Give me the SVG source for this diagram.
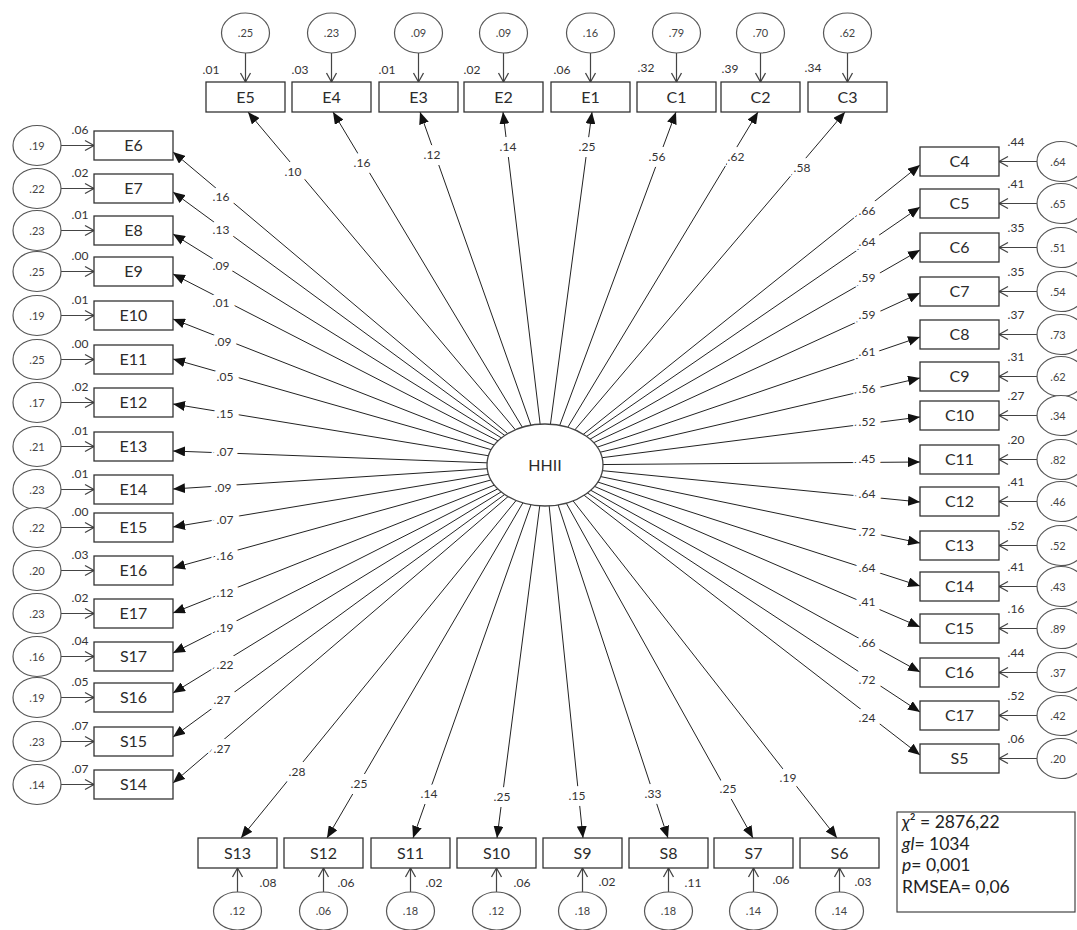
<svg xmlns="http://www.w3.org/2000/svg" width="1077" height="930" viewBox="0 0 1077 930">
<defs>
<marker id="tri" markerUnits="userSpaceOnUse" markerWidth="12" markerHeight="10" refX="12" refY="5" orient="auto"><path d="M0,0 L12,5 L0,10 z" fill="#111"/></marker>
<marker id="open" markerUnits="userSpaceOnUse" markerWidth="12" markerHeight="12" refX="9" refY="6" orient="auto" overflow="visible"><path d="M0,1 L9,6 L0,11" fill="none" stroke="#444" stroke-width="1.3"/></marker>
<style>
text{font-family:Lato,'Liberation Sans',sans-serif}
.box{fill:#fff;stroke:#333;stroke-width:1.3}
.lbl{font-size:16px;fill:#2b2b2b;text-anchor:middle}
.r2{font-size:12px;fill:#333;text-anchor:middle}
.err{fill:#fff;stroke:#555;stroke-width:1.2}
.et{font-size:11px;fill:#444;text-anchor:middle}
.p{stroke:#222;stroke-width:1;marker-end:url(#tri)}
.ep{stroke:#444;stroke-width:1.2;marker-end:url(#open)}
.c{font-size:12px;fill:#333;text-anchor:middle;stroke:#fff;stroke-width:12;paint-order:stroke;stroke-linejoin:round}
.st{font-size:17.5px;fill:#222}
</style>
</defs>
<rect width="1077" height="930" fill="#fff"/>
<g id="connectors">
<line class="p" x1="545" y1="465" x2="248" y2="112"/><text class="c" x="293" y="176">.10</text>
<line class="p" x1="545" y1="465" x2="333" y2="112"/><text class="c" x="362" y="167">.16</text>
<line class="p" x1="545" y1="465" x2="420" y2="112"/><text class="c" x="432" y="159">.12</text>
<line class="p" x1="545" y1="465" x2="503" y2="112"/><text class="c" x="508" y="151">.14</text>
<line class="p" x1="545" y1="465" x2="592" y2="112"/><text class="c" x="587" y="151">.25</text>
<line class="p" x1="545" y1="465" x2="676" y2="112"/><text class="c" x="657" y="161">.56</text>
<line class="p" x1="545" y1="465" x2="758" y2="112"/><text class="c" x="736" y="161">.62</text>
<line class="p" x1="545" y1="465" x2="845" y2="112"/><text class="c" x="802" y="172">.58</text>
<line class="p" x1="545" y1="465" x2="173" y2="152"/><text class="c" x="221" y="201">.16</text>
<line class="p" x1="545" y1="465" x2="173" y2="192"/><text class="c" x="221" y="234">.13</text>
<line class="p" x1="545" y1="465" x2="173" y2="234"/><text class="c" x="221" y="270">.09</text>
<line class="p" x1="545" y1="465" x2="173" y2="274"/><text class="c" x="221" y="307">.01</text>
<line class="p" x1="545" y1="465" x2="173" y2="319"/><text class="c" x="223" y="346">.09</text>
<line class="p" x1="545" y1="465" x2="173" y2="359"/><text class="c" x="225" y="381">.05</text>
<line class="p" x1="545" y1="465" x2="173" y2="404"/><text class="c" x="225" y="418">.15</text>
<line class="p" x1="545" y1="465" x2="173" y2="451"/><text class="c" x="225" y="456">.07</text>
<line class="p" x1="545" y1="465" x2="173" y2="489"/><text class="c" x="223" y="492">.09</text>
<line class="p" x1="545" y1="465" x2="173" y2="527"/><text class="c" x="225" y="524">.07</text>
<line class="p" x1="545" y1="465" x2="173" y2="568"/><text class="c" x="225" y="560">.16</text>
<line class="p" x1="545" y1="465" x2="173" y2="613"/><text class="c" x="225" y="597">.12</text>
<line class="p" x1="545" y1="465" x2="173" y2="653"/><text class="c" x="225" y="632">.19</text>
<line class="p" x1="545" y1="465" x2="173" y2="693"/><text class="c" x="225" y="669">.22</text>
<line class="p" x1="545" y1="465" x2="173" y2="737"/><text class="c" x="222" y="704">.27</text>
<line class="p" x1="545" y1="465" x2="173" y2="783"/><text class="c" x="222" y="753">.27</text>
<line class="p" x1="545" y1="465" x2="920" y2="165"/><text class="c" x="867" y="215">.66</text>
<line class="p" x1="545" y1="465" x2="920" y2="207"/><text class="c" x="867" y="246">.64</text>
<line class="p" x1="545" y1="465" x2="920" y2="250"/><text class="c" x="867" y="282">.59</text>
<line class="p" x1="545" y1="465" x2="920" y2="293"/><text class="c" x="867" y="319">.59</text>
<line class="p" x1="545" y1="465" x2="920" y2="337"/><text class="c" x="867" y="356">.61</text>
<line class="p" x1="545" y1="465" x2="920" y2="378"/><text class="c" x="867" y="393">.56</text>
<line class="p" x1="545" y1="465" x2="920" y2="417"/><text class="c" x="867" y="426">.52</text>
<line class="p" x1="545" y1="465" x2="920" y2="462"/><text class="c" x="867" y="463">.45</text>
<line class="p" x1="545" y1="465" x2="920" y2="502"/><text class="c" x="867" y="498">.64</text>
<line class="p" x1="545" y1="465" x2="920" y2="543"/><text class="c" x="867" y="536">.72</text>
<line class="p" x1="545" y1="465" x2="920" y2="586"/><text class="c" x="867" y="572">.64</text>
<line class="p" x1="545" y1="465" x2="920" y2="627"/><text class="c" x="867" y="606">.41</text>
<line class="p" x1="545" y1="465" x2="920" y2="672"/><text class="c" x="867" y="647">.66</text>
<line class="p" x1="545" y1="465" x2="920" y2="712"/><text class="c" x="867" y="684">.72</text>
<line class="p" x1="545" y1="465" x2="920" y2="755"/><text class="c" x="867" y="722">.24</text>
<line class="p" x1="545" y1="465" x2="241" y2="838"/><text class="c" x="297" y="776">.28</text>
<line class="p" x1="545" y1="465" x2="327" y2="838"/><text class="c" x="359" y="788">.25</text>
<line class="p" x1="545" y1="465" x2="413" y2="838"/><text class="c" x="429" y="798">.14</text>
<line class="p" x1="545" y1="465" x2="497" y2="838"/><text class="c" x="502" y="801">.25</text>
<line class="p" x1="545" y1="465" x2="583" y2="838"/><text class="c" x="577" y="800">.15</text>
<line class="p" x1="545" y1="465" x2="668" y2="838"/><text class="c" x="653" y="798">.33</text>
<line class="p" x1="545" y1="465" x2="753" y2="838"/><text class="c" x="728" y="793">.25</text>
<line class="p" x1="545" y1="465" x2="837" y2="838"/><text class="c" x="788" y="782">.19</text>
<line class="ep" x1="245.5" y1="53" x2="245.5" y2="82"/>
<line class="ep" x1="331.5" y1="53" x2="331.5" y2="82"/>
<line class="ep" x1="418.5" y1="53" x2="418.5" y2="82"/>
<line class="ep" x1="503.5" y1="53" x2="503.5" y2="82"/>
<line class="ep" x1="590.5" y1="53" x2="590.5" y2="82"/>
<line class="ep" x1="676.5" y1="53" x2="676.5" y2="82"/>
<line class="ep" x1="760.5" y1="53" x2="760.5" y2="82"/>
<line class="ep" x1="847.5" y1="53" x2="847.5" y2="82"/>
<line class="ep" x1="61" y1="145.5" x2="94" y2="145.5"/>
<line class="ep" x1="61" y1="188.5" x2="94" y2="188.5"/>
<line class="ep" x1="61" y1="230.5" x2="94" y2="230.5"/>
<line class="ep" x1="61" y1="271.5" x2="94" y2="271.5"/>
<line class="ep" x1="61" y1="315.5" x2="94" y2="315.5"/>
<line class="ep" x1="61" y1="359.5" x2="94" y2="359.5"/>
<line class="ep" x1="61" y1="402.5" x2="94" y2="402.5"/>
<line class="ep" x1="61" y1="446.5" x2="94" y2="446.5"/>
<line class="ep" x1="61" y1="489.5" x2="94" y2="489.5"/>
<line class="ep" x1="61" y1="527.5" x2="94" y2="527.5"/>
<line class="ep" x1="61" y1="570.5" x2="94" y2="570.5"/>
<line class="ep" x1="61" y1="613.5" x2="94" y2="613.5"/>
<line class="ep" x1="61" y1="656.5" x2="94" y2="656.5"/>
<line class="ep" x1="61" y1="697.5" x2="94" y2="697.5"/>
<line class="ep" x1="61" y1="741.5" x2="94" y2="741.5"/>
<line class="ep" x1="61" y1="784.5" x2="94" y2="784.5"/>
<line class="ep" x1="1037" y1="161.5" x2="999" y2="161.5"/>
<line class="ep" x1="1037" y1="203.5" x2="999" y2="203.5"/>
<line class="ep" x1="1037" y1="247.5" x2="999" y2="247.5"/>
<line class="ep" x1="1037" y1="291.5" x2="999" y2="291.5"/>
<line class="ep" x1="1037" y1="334.5" x2="999" y2="334.5"/>
<line class="ep" x1="1037" y1="376.5" x2="999" y2="376.5"/>
<line class="ep" x1="1037" y1="415.5" x2="999" y2="415.5"/>
<line class="ep" x1="1037" y1="459.5" x2="999" y2="459.5"/>
<line class="ep" x1="1037" y1="501.5" x2="999" y2="501.5"/>
<line class="ep" x1="1037" y1="545.5" x2="999" y2="545.5"/>
<line class="ep" x1="1037" y1="586.5" x2="999" y2="586.5"/>
<line class="ep" x1="1037" y1="628.5" x2="999" y2="628.5"/>
<line class="ep" x1="1037" y1="672.5" x2="999" y2="672.5"/>
<line class="ep" x1="1037" y1="715.5" x2="999" y2="715.5"/>
<line class="ep" x1="1037" y1="758.5" x2="999" y2="758.5"/>
<line class="ep" x1="237.5" y1="892" x2="237.5" y2="868"/>
<line class="ep" x1="323.5" y1="892" x2="323.5" y2="868"/>
<line class="ep" x1="410.5" y1="892" x2="410.5" y2="868"/>
<line class="ep" x1="496.5" y1="892" x2="496.5" y2="868"/>
<line class="ep" x1="582.5" y1="892" x2="582.5" y2="868"/>
<line class="ep" x1="668.5" y1="892" x2="668.5" y2="868"/>
<line class="ep" x1="753.5" y1="892" x2="753.5" y2="868"/>
<line class="ep" x1="839.5" y1="892" x2="839.5" y2="868"/>
</g>
<g id="HHII"><ellipse cx="545" cy="465" rx="58" ry="41" fill="#fff" stroke="#444" stroke-width="1.3"/><text class="lbl" x="545" y="471">HHII</text></g>
<g id="E5"><rect class="box" x="206" y="82" width="79" height="30"/><text class="lbl" x="245.5" y="103">E5</text><text class="r2" x="211" y="74">.01</text></g>
<g id="E4"><rect class="box" x="292" y="82" width="79" height="30"/><text class="lbl" x="331.5" y="103">E4</text><text class="r2" x="300" y="74">.03</text></g>
<g id="E3"><rect class="box" x="379" y="82" width="79" height="30"/><text class="lbl" x="418.5" y="103">E3</text><text class="r2" x="387" y="74">.01</text></g>
<g id="E2"><rect class="box" x="464" y="82" width="79" height="30"/><text class="lbl" x="503.5" y="103">E2</text><text class="r2" x="472" y="74">.02</text></g>
<g id="E1"><rect class="box" x="551" y="82" width="79" height="30"/><text class="lbl" x="590.5" y="103">E1</text><text class="r2" x="562" y="74">.06</text></g>
<g id="C1"><rect class="box" x="637" y="82" width="79" height="30"/><text class="lbl" x="676.5" y="103">C1</text><text class="r2" x="646" y="72">.32</text></g>
<g id="C2"><rect class="box" x="721" y="82" width="79" height="30"/><text class="lbl" x="760.5" y="103">C2</text><text class="r2" x="730" y="73">.39</text></g>
<g id="C3"><rect class="box" x="808" y="82" width="79" height="30"/><text class="lbl" x="847.5" y="103">C3</text><text class="r2" x="813" y="72">.34</text></g>
<g id="e_E5"><ellipse class="err" cx="245.5" cy="33" rx="24" ry="20"/><text class="et" x="245.5" y="37">.25</text></g>
<g id="e_E4"><ellipse class="err" cx="331.5" cy="33" rx="24" ry="20"/><text class="et" x="331.5" y="37">.23</text></g>
<g id="e_E3"><ellipse class="err" cx="418.5" cy="33" rx="24" ry="20"/><text class="et" x="418.5" y="37">.09</text></g>
<g id="e_E2"><ellipse class="err" cx="503.5" cy="33" rx="24" ry="20"/><text class="et" x="503.5" y="37">.09</text></g>
<g id="e_E1"><ellipse class="err" cx="590.5" cy="33" rx="24" ry="20"/><text class="et" x="590.5" y="37">.16</text></g>
<g id="e_C1"><ellipse class="err" cx="676.5" cy="33" rx="24" ry="20"/><text class="et" x="676.5" y="37">.79</text></g>
<g id="e_C2"><ellipse class="err" cx="760.5" cy="33" rx="24" ry="20"/><text class="et" x="760.5" y="37">.70</text></g>
<g id="e_C3"><ellipse class="err" cx="847.5" cy="33" rx="24" ry="20"/><text class="et" x="847.5" y="37">.62</text></g>
<g id="E6"><rect class="box" x="94" y="131" width="79" height="29"/><text class="lbl" x="133.5" y="151">E6</text><text class="r2" x="80" y="134">.06</text></g>
<g id="E7"><rect class="box" x="94" y="174" width="79" height="29"/><text class="lbl" x="133.5" y="194">E7</text><text class="r2" x="80" y="177">.02</text></g>
<g id="E8"><rect class="box" x="94" y="216" width="79" height="29"/><text class="lbl" x="133.5" y="236">E8</text><text class="r2" x="80" y="219">.01</text></g>
<g id="E9"><rect class="box" x="94" y="257" width="79" height="29"/><text class="lbl" x="133.5" y="277">E9</text><text class="r2" x="80" y="260">.00</text></g>
<g id="E10"><rect class="box" x="94" y="301" width="79" height="29"/><text class="lbl" x="133.5" y="321">E10</text><text class="r2" x="80" y="304">.01</text></g>
<g id="E11"><rect class="box" x="94" y="345" width="79" height="29"/><text class="lbl" x="133.5" y="365">E11</text><text class="r2" x="80" y="348">.00</text></g>
<g id="E12"><rect class="box" x="94" y="388" width="79" height="29"/><text class="lbl" x="133.5" y="408">E12</text><text class="r2" x="80" y="391">.02</text></g>
<g id="E13"><rect class="box" x="94" y="432" width="79" height="29"/><text class="lbl" x="133.5" y="452">E13</text><text class="r2" x="80" y="435">.01</text></g>
<g id="E14"><rect class="box" x="94" y="475" width="79" height="29"/><text class="lbl" x="133.5" y="495">E14</text><text class="r2" x="80" y="478">.01</text></g>
<g id="E15"><rect class="box" x="94" y="513" width="79" height="29"/><text class="lbl" x="133.5" y="533">E15</text><text class="r2" x="80" y="516">.00</text></g>
<g id="E16"><rect class="box" x="94" y="556" width="79" height="29"/><text class="lbl" x="133.5" y="576">E16</text><text class="r2" x="80" y="559">.03</text></g>
<g id="E17"><rect class="box" x="94" y="599" width="79" height="29"/><text class="lbl" x="133.5" y="619">E17</text><text class="r2" x="80" y="602">.02</text></g>
<g id="S17"><rect class="box" x="94" y="642" width="79" height="29"/><text class="lbl" x="133.5" y="662">S17</text><text class="r2" x="80" y="645">.04</text></g>
<g id="S16"><rect class="box" x="94" y="683" width="79" height="29"/><text class="lbl" x="133.5" y="703">S16</text><text class="r2" x="80" y="686">.05</text></g>
<g id="S15"><rect class="box" x="94" y="727" width="79" height="29"/><text class="lbl" x="133.5" y="747">S15</text><text class="r2" x="80" y="730">.07</text></g>
<g id="S14"><rect class="box" x="94" y="770" width="79" height="29"/><text class="lbl" x="133.5" y="790">S14</text><text class="r2" x="80" y="773">.07</text></g>
<g id="e_E6"><ellipse class="err" cx="37" cy="145.5" rx="24" ry="20"/><text class="et" x="37" y="149.5">.19</text></g>
<g id="e_E7"><ellipse class="err" cx="37" cy="188.5" rx="24" ry="20"/><text class="et" x="37" y="192.5">.22</text></g>
<g id="e_E8"><ellipse class="err" cx="37" cy="230.5" rx="24" ry="20"/><text class="et" x="37" y="234.5">.23</text></g>
<g id="e_E9"><ellipse class="err" cx="37" cy="271.5" rx="24" ry="20"/><text class="et" x="37" y="275.5">.25</text></g>
<g id="e_E10"><ellipse class="err" cx="37" cy="315.5" rx="24" ry="20"/><text class="et" x="37" y="319.5">.19</text></g>
<g id="e_E11"><ellipse class="err" cx="37" cy="359.5" rx="24" ry="20"/><text class="et" x="37" y="363.5">.25</text></g>
<g id="e_E12"><ellipse class="err" cx="37" cy="402.5" rx="24" ry="20"/><text class="et" x="37" y="406.5">.17</text></g>
<g id="e_E13"><ellipse class="err" cx="37" cy="446.5" rx="24" ry="20"/><text class="et" x="37" y="450.5">.21</text></g>
<g id="e_E14"><ellipse class="err" cx="37" cy="489.5" rx="24" ry="20"/><text class="et" x="37" y="493.5">.23</text></g>
<g id="e_E15"><ellipse class="err" cx="37" cy="527.5" rx="24" ry="20"/><text class="et" x="37" y="531.5">.22</text></g>
<g id="e_E16"><ellipse class="err" cx="37" cy="570.5" rx="24" ry="20"/><text class="et" x="37" y="574.5">.20</text></g>
<g id="e_E17"><ellipse class="err" cx="37" cy="613.5" rx="24" ry="20"/><text class="et" x="37" y="617.5">.23</text></g>
<g id="e_S17"><ellipse class="err" cx="37" cy="656.5" rx="24" ry="20"/><text class="et" x="37" y="660.5">.16</text></g>
<g id="e_S16"><ellipse class="err" cx="37" cy="697.5" rx="24" ry="20"/><text class="et" x="37" y="701.5">.19</text></g>
<g id="e_S15"><ellipse class="err" cx="37" cy="741.5" rx="24" ry="20"/><text class="et" x="37" y="745.5">.23</text></g>
<g id="e_S14"><ellipse class="err" cx="37" cy="784.5" rx="24" ry="20"/><text class="et" x="37" y="788.5">.14</text></g>
<g id="C4"><rect class="box" x="920" y="147" width="79" height="29"/><text class="lbl" x="959.5" y="167">C4</text><text class="r2" x="1016" y="146">.44</text></g>
<g id="C5"><rect class="box" x="920" y="189" width="79" height="29"/><text class="lbl" x="959.5" y="209">C5</text><text class="r2" x="1016" y="188">.41</text></g>
<g id="C6"><rect class="box" x="920" y="233" width="79" height="29"/><text class="lbl" x="959.5" y="253">C6</text><text class="r2" x="1016" y="232">.35</text></g>
<g id="C7"><rect class="box" x="920" y="277" width="79" height="29"/><text class="lbl" x="959.5" y="297">C7</text><text class="r2" x="1016" y="276">.35</text></g>
<g id="C8"><rect class="box" x="920" y="320" width="79" height="29"/><text class="lbl" x="959.5" y="340">C8</text><text class="r2" x="1016" y="319">.37</text></g>
<g id="C9"><rect class="box" x="920" y="362" width="79" height="29"/><text class="lbl" x="959.5" y="382">C9</text><text class="r2" x="1016" y="361">.31</text></g>
<g id="C10"><rect class="box" x="920" y="401" width="79" height="29"/><text class="lbl" x="959.5" y="421">C10</text><text class="r2" x="1016" y="400">.27</text></g>
<g id="C11"><rect class="box" x="920" y="445" width="79" height="29"/><text class="lbl" x="959.5" y="465">C11</text><text class="r2" x="1016" y="444">.20</text></g>
<g id="C12"><rect class="box" x="920" y="487" width="79" height="29"/><text class="lbl" x="959.5" y="507">C12</text><text class="r2" x="1016" y="486">.41</text></g>
<g id="C13"><rect class="box" x="920" y="531" width="79" height="29"/><text class="lbl" x="959.5" y="551">C13</text><text class="r2" x="1016" y="530">.52</text></g>
<g id="C14"><rect class="box" x="920" y="572" width="79" height="29"/><text class="lbl" x="959.5" y="592">C14</text><text class="r2" x="1016" y="571">.41</text></g>
<g id="C15"><rect class="box" x="920" y="614" width="79" height="29"/><text class="lbl" x="959.5" y="634">C15</text><text class="r2" x="1016" y="613">.16</text></g>
<g id="C16"><rect class="box" x="920" y="658" width="79" height="29"/><text class="lbl" x="959.5" y="678">C16</text><text class="r2" x="1016" y="657">.44</text></g>
<g id="C17"><rect class="box" x="920" y="701" width="79" height="29"/><text class="lbl" x="959.5" y="721">C17</text><text class="r2" x="1016" y="700">.52</text></g>
<g id="S5"><rect class="box" x="920" y="744" width="79" height="29"/><text class="lbl" x="959.5" y="764">S5</text><text class="r2" x="1016" y="743">.06</text></g>
<g id="e_C4"><ellipse class="err" cx="1061" cy="161.5" rx="24" ry="20"/><text class="et" x="1058" y="165.5">.64</text></g>
<g id="e_C5"><ellipse class="err" cx="1061" cy="203.5" rx="24" ry="20"/><text class="et" x="1058" y="207.5">.65</text></g>
<g id="e_C6"><ellipse class="err" cx="1061" cy="247.5" rx="24" ry="20"/><text class="et" x="1058" y="251.5">.51</text></g>
<g id="e_C7"><ellipse class="err" cx="1061" cy="291.5" rx="24" ry="20"/><text class="et" x="1058" y="295.5">.54</text></g>
<g id="e_C8"><ellipse class="err" cx="1061" cy="334.5" rx="24" ry="20"/><text class="et" x="1058" y="338.5">.73</text></g>
<g id="e_C9"><ellipse class="err" cx="1061" cy="376.5" rx="24" ry="20"/><text class="et" x="1058" y="380.5">.62</text></g>
<g id="e_C10"><ellipse class="err" cx="1061" cy="415.5" rx="24" ry="20"/><text class="et" x="1058" y="419.5">.34</text></g>
<g id="e_C11"><ellipse class="err" cx="1061" cy="459.5" rx="24" ry="20"/><text class="et" x="1058" y="463.5">.82</text></g>
<g id="e_C12"><ellipse class="err" cx="1061" cy="501.5" rx="24" ry="20"/><text class="et" x="1058" y="505.5">.46</text></g>
<g id="e_C13"><ellipse class="err" cx="1061" cy="545.5" rx="24" ry="20"/><text class="et" x="1058" y="549.5">.52</text></g>
<g id="e_C14"><ellipse class="err" cx="1061" cy="586.5" rx="24" ry="20"/><text class="et" x="1058" y="590.5">.43</text></g>
<g id="e_C15"><ellipse class="err" cx="1061" cy="628.5" rx="24" ry="20"/><text class="et" x="1058" y="632.5">.89</text></g>
<g id="e_C16"><ellipse class="err" cx="1061" cy="672.5" rx="24" ry="20"/><text class="et" x="1058" y="676.5">.37</text></g>
<g id="e_C17"><ellipse class="err" cx="1061" cy="715.5" rx="24" ry="20"/><text class="et" x="1058" y="719.5">.42</text></g>
<g id="e_S5"><ellipse class="err" cx="1061" cy="758.5" rx="24" ry="20"/><text class="et" x="1058" y="762.5">.20</text></g>
<g id="S13"><rect class="box" x="198" y="838" width="79" height="30"/><text class="lbl" x="237.5" y="859">S13</text><text class="r2" x="268" y="887">.08</text></g>
<g id="S12"><rect class="box" x="284" y="838" width="79" height="30"/><text class="lbl" x="323.5" y="859">S12</text><text class="r2" x="346" y="887">.06</text></g>
<g id="S11"><rect class="box" x="371" y="838" width="79" height="30"/><text class="lbl" x="410.5" y="859">S11</text><text class="r2" x="434" y="887">.02</text></g>
<g id="S10"><rect class="box" x="457" y="838" width="79" height="30"/><text class="lbl" x="496.5" y="859">S10</text><text class="r2" x="522" y="887">.06</text></g>
<g id="S9"><rect class="box" x="543" y="838" width="79" height="30"/><text class="lbl" x="582.5" y="859">S9</text><text class="r2" x="607" y="886">.02</text></g>
<g id="S8"><rect class="box" x="629" y="838" width="79" height="30"/><text class="lbl" x="668.5" y="859">S8</text><text class="r2" x="693" y="887">.11</text></g>
<g id="S7"><rect class="box" x="714" y="838" width="79" height="30"/><text class="lbl" x="753.5" y="859">S7</text><text class="r2" x="781" y="884">.06</text></g>
<g id="S6"><rect class="box" x="800" y="838" width="79" height="30"/><text class="lbl" x="839.5" y="859">S6</text><text class="r2" x="863" y="886">.03</text></g>
<g id="e_S13"><ellipse class="err" cx="237.5" cy="911" rx="24" ry="19"/><text class="et" x="237.5" y="915">.12</text></g>
<g id="e_S12"><ellipse class="err" cx="323.5" cy="911" rx="24" ry="19"/><text class="et" x="323.5" y="915">.06</text></g>
<g id="e_S11"><ellipse class="err" cx="410.5" cy="911" rx="24" ry="19"/><text class="et" x="410.5" y="915">.18</text></g>
<g id="e_S10"><ellipse class="err" cx="496.5" cy="911" rx="24" ry="19"/><text class="et" x="496.5" y="915">.12</text></g>
<g id="e_S9"><ellipse class="err" cx="582.5" cy="911" rx="24" ry="19"/><text class="et" x="582.5" y="915">.18</text></g>
<g id="e_S8"><ellipse class="err" cx="668.5" cy="911" rx="24" ry="19"/><text class="et" x="668.5" y="915">.18</text></g>
<g id="e_S7"><ellipse class="err" cx="753.5" cy="911" rx="24" ry="19"/><text class="et" x="753.5" y="915">.14</text></g>
<g id="e_S6"><ellipse class="err" cx="839.5" cy="911" rx="24" ry="19"/><text class="et" x="839.5" y="915">.14</text></g>
<g id="fit-stats">
<rect x="897" y="812" width="178" height="100" fill="#fff" stroke="#444" stroke-width="1.2"/>
<text class="st" x="902" y="828"><tspan font-style="italic">χ</tspan>² = 2876,22</text>
<text class="st" x="902" y="849.5"><tspan font-style="italic">gl</tspan>= 1034</text>
<text class="st" x="902" y="871"><tspan font-style="italic">p</tspan>= 0,001</text>
<text class="st" x="902" y="892.5">RMSEA= 0,06</text>
</g>
</svg>
